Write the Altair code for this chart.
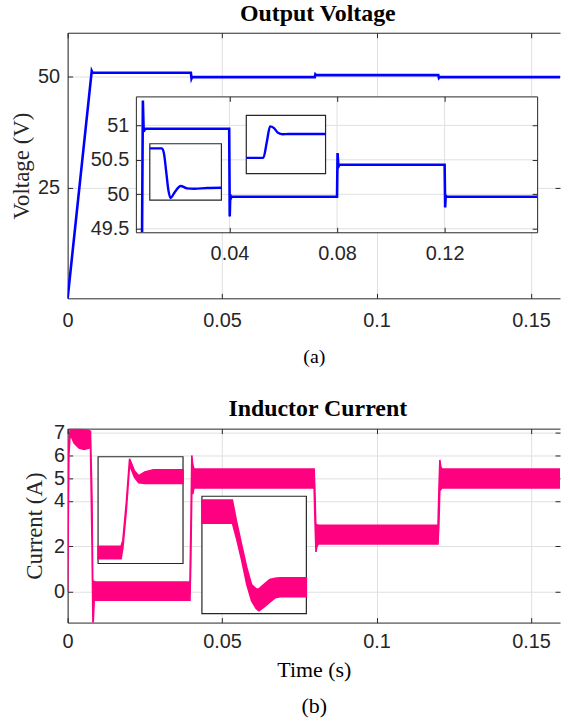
import altair as alt
import pandas as pd

# ---------------- data ----------------
# Output voltage (V) versus time (s)
V_T = [0.0, 0.0078, 0.0081, 0.0086, 0.0399, 0.0401, 0.0403, 0.0405, 0.0408,
       0.0800, 0.0802, 0.0805, 0.0809, 0.1200, 0.1202, 0.1204, 0.1208, 0.1600]
V_V = [0.0, 51.36, 50.91, 50.95, 50.95, 49.68, 50.00, 49.94, 49.965,
       49.965, 50.60, 50.40, 50.43, 50.43, 49.81, 49.98, 49.965, 49.965]
# point where the start-up rise enters the zoomed voltage axes
V_ENTRY_T = 0.0075
V_ENTRY_V = 49.45

# magnified step-down transient near 0.04 s
A_T = [0.0396, 0.03994, 0.0400, 0.04006, 0.04012, 0.04018, 0.0403, 0.04046,
       0.04064, 0.04084, 0.0412, 0.0416]
A_V = [50.95, 50.95, 50.80, 50.35, 49.90, 49.71, 49.86, 50.01,
       49.95, 49.94, 49.96, 49.965]
# magnified step-up transient near 0.08 s
B_T = [0.0796, 0.08003, 0.08012, 0.0802, 0.0803, 0.0804, 0.08052, 0.08066, 0.0808, 0.0816]
B_V = [49.965, 49.965, 50.283, 50.578, 50.544, 50.453, 50.424, 50.43, 50.43, 50.43]

# Inductor current (A): lower / upper envelope of the ripple band
I_T = [0.0, 0.0004, 0.0008, 0.0021, 0.0037, 0.0053, 0.0068, 0.0074, 0.0079, 0.0082,
       0.0086, 0.0091, 0.0396, 0.0399, 0.0402, 0.0405, 0.0409, 0.0413, 0.0798, 0.0801,
       0.0804, 0.0807, 0.0811, 0.1199, 0.1202, 0.1205, 0.1208, 0.1212, 0.1600]
I_LO = [0.0, 6.0, 6.95, 6.55, 6.32, 6.26, 6.32, 6.35, 2.0, -1.6,
        -0.4, -0.37, -0.37, 1.5, 4.5, 4.3, 4.57, 4.57, 4.57, 3.0,
        1.75, 2.0, 2.1, 2.1, 3.0, 4.6, 4.5, 4.57, 4.57]
I_HI = [0.0, 6.6, 7.15, 7.15, 7.15, 7.13, 7.1, 7.06, 4.0, -0.8,
        0.45, 0.42, 0.42, 3.0, 6.0, 5.6, 5.4, 5.4, 5.4, 4.2,
        2.6, 2.95, 2.92, 2.92, 4.5, 5.8, 5.5, 5.4, 5.4]

# magnified current step-up near 0.04 s
C_T = [0.0392, 0.03985, 0.0399, 0.0400, 0.04009, 0.04023, 0.04035, 0.04052, 0.04076, 0.0416]
C_LO = [-0.38, -0.38, 0.3, 2.8, 5.7, 4.9, 4.55, 4.5, 4.5, 4.5]
C_HI = [0.42, 0.42, 0.8, 3.3, 6.1, 5.3, 5.0, 5.25, 5.39, 5.39]
# magnified current step-down near 0.08 s
D_T = [0.0793, 0.0800, 0.0801, 0.08021, 0.08033, 0.08044, 0.08055, 0.08061,
       0.08074, 0.08086, 0.08098, 0.0811, 0.0817]
D_HI = [5.39, 5.39, 4.6, 3.83, 3.0, 2.4, 2.24, 2.25, 2.42, 2.58, 2.62, 2.64, 2.64]
D_LO = [4.57, 4.57, 4.0, 3.28, 2.41, 1.83, 1.54, 1.47, 1.62, 1.78, 1.93, 1.97, 1.97]

# axis domains and ticks
X_DOM = [0.0, 0.1594]
X_TICKS = [0, 0.05, 0.1, 0.15]
YV_DOM = [0, 60]
YV_TICKS = [25, 50]
YI_DOM = [-1.36, 7.18]
YI_TICKS = [0, 2, 4, 5, 6, 7]
ZV_T_DOM = [0.0052, 0.1544]
ZV_T_TICKS = [0.04, 0.08, 0.12]
ZV_V_DOM = [49.45, 51.42]
ZV_V_TICKS = [49.5, 50, 50.5, 51]
A_T_DOM = [0.0396, 0.0416]
A_V_DOM = [49.655, 51.066]
B_T_DOM = [0.0796, 0.0816]
B_V_DOM = [49.659, 50.793]
C_T_DOM = [0.0392, 0.0416]
C_I_DOM = [-0.7, 6.23]
D_T_DOM = [0.0793, 0.0817]
D_I_DOM = [1.37, 5.52]

# ---------------- layout / style ----------------
W = 495
H_TOP = 267
H_BOT = 195
# inset boxes (left, right, top, bottom) in px inside the plot area
ZV_BOX = (68.6, 472.0, 64.0, 200.6)
A_BOX = (82.6, 154.6, 111.6, 168.3)
B_BOX = (179.6, 259.3, 83.0, 141.6)
C_BOX = (30.6, 116.0, 28.3, 135.6)
D_BOX = (135.0, 240.0, 68.0, 186.0)

SANS = "Liberation Sans"
SERIF = "Liberation Serif"
INK = "#262626"
GRID = "#e0e0e0"
BLUE = "#0000ff"
PINK = "#ff0080"
IN_TICK = {"expr": "-5"}
FMT = ".6~g"


def xs(domain, box=None, clamp=False):
    kw = dict(domain=domain, nice=False, zero=False)
    if box is not None:
        kw["range"] = [box[0], box[1]]
    if clamp:
        kw["clamp"] = True
    return alt.Scale(**kw)


def ys(domain, box=None):
    kw = dict(domain=domain, nice=False, zero=False)
    if box is not None:
        kw["range"] = [box[3], box[2]]
    return alt.Scale(**kw)


def axis(orient, values, labels=True, grid=False, pad=10, offset=0, domain=True,
         zindex=0, title=None, **kw):
    d = dict(orient=orient, values=values, format=FMT, labels=labels, grid=grid,
             domain=domain, domainColor=INK, domainWidth=1,
             ticks=True, tickColor=INK, tickWidth=1, tickSize=IN_TICK,
             labelFont=SANS, labelFontSize=20, labelColor=INK, labelPadding=pad,
             labelFlush=False, labelOverlap=False, offset=offset, zindex=zindex,
             title=title)
    if grid:
        d.update(gridColor=GRID, gridWidth=1)
    d.update(kw)
    return alt.Axis(**d)


def frame_df(tdom, vdom):
    return pd.DataFrame({"t0": [tdom[0]], "t1": [tdom[1]], "v0": [vdom[0]], "v1": [vdom[1]]})


def box_rect(tdom, vdom, box, fill="white", stroke=True):
    mk = dict(fill=fill)
    if stroke:
        mk.update(stroke=INK, strokeWidth=1.2)
    return alt.Chart(frame_df(tdom, vdom)).mark_rect(**mk).encode(
        x=alt.X("t0:Q", scale=xs(tdom, box), axis=None), x2="t1",
        y=alt.Y("v0:Q", scale=ys(vdom, box), axis=None), y2="v1")


def grid_rules(tdom, vdom, tticks, vticks, box):
    vg = pd.DataFrame({"t": tticks, "v0": vdom[0], "v1": vdom[1]})
    hg = pd.DataFrame({"v": vticks, "t0": tdom[0], "t1": tdom[1]})
    r1 = alt.Chart(vg).mark_rule(color=GRID, strokeWidth=1).encode(
        x=alt.X("t:Q", scale=xs(tdom, box), axis=None),
        y=alt.Y("v0:Q", scale=ys(vdom, box), axis=None), y2="v1")
    r2 = alt.Chart(hg).mark_rule(color=GRID, strokeWidth=1).encode(
        y=alt.Y("v:Q", scale=ys(vdom, box), axis=None),
        x=alt.X("t0:Q", scale=xs(tdom, box), axis=None), x2="t1")
    return [r1, r2]


# ---------------- top panel: output voltage ----------------
volt = pd.DataFrame({"t": V_T, "v": V_V})
volt_zoom = pd.DataFrame({"t": [V_ENTRY_T] + V_T[1:], "v": [V_ENTRY_V] + V_V[1:]})
sub_a = pd.DataFrame({"t": A_T, "v": A_V})
sub_b = pd.DataFrame({"t": B_T, "v": B_V})

main_v = alt.Chart(volt).mark_line(color=BLUE, strokeWidth=2.6, clip=True).encode(
    x=alt.X("t:Q", scale=xs(X_DOM),
            axis=axis("bottom", X_TICKS, grid=True, pad=17, title="(a)",
                      titleFont=SERIF, titleFontSize=20, titleFontWeight="normal",
                      titleColor="black", titlePadding=17)),
    y=alt.Y("v:Q", scale=ys(YV_DOM),
            axis=axis("left", YV_TICKS, grid=True, pad=13, title="Voltage (V)",
                      titleFont=SERIF, titleFontSize=23, titleFontWeight="normal",
                      titleColor=INK, titlePadding=4)),
)
main_v_mirror = alt.Chart(volt).mark_line(opacity=0).encode(
    x=alt.X("t:Q", scale=xs(X_DOM), axis=axis("top", X_TICKS, labels=False)),
    y=alt.Y("v:Q", scale=ys(YV_DOM), axis=axis("right", YV_TICKS, labels=False, domain=False)),
)

zv_line = alt.Chart(volt_zoom).mark_line(color=BLUE, strokeWidth=2.6).encode(
    x=alt.X("t:Q", scale=xs(ZV_T_DOM, ZV_BOX, clamp=True),
            axis=axis("bottom", ZV_T_TICKS, pad=16, offset=-(H_TOP - ZV_BOX[3]), zindex=1)),
    y=alt.Y("v:Q", scale=ys(ZV_V_DOM, ZV_BOX),
            axis=axis("left", ZV_V_TICKS, pad=12, offset=-ZV_BOX[0], zindex=1)),
)
zv_mirror = alt.Chart(volt_zoom).mark_line(opacity=0).encode(
    x=alt.X("t:Q", scale=xs(ZV_T_DOM, ZV_BOX, clamp=True),
            axis=axis("top", ZV_T_TICKS, labels=False, offset=-ZV_BOX[2], zindex=1)),
    y=alt.Y("v:Q", scale=ys(ZV_V_DOM, ZV_BOX),
            axis=axis("right", ZV_V_TICKS, labels=False, offset=-(W - ZV_BOX[1]), zindex=1)),
)

a_line = alt.Chart(sub_a).mark_line(color=BLUE, strokeWidth=2.4, interpolate="monotone").encode(
    x=alt.X("t:Q", scale=xs(A_T_DOM, A_BOX), axis=None),
    y=alt.Y("v:Q", scale=ys(A_V_DOM, A_BOX), axis=None))
b_line = alt.Chart(sub_b).mark_line(color=BLUE, strokeWidth=2.4, interpolate="monotone").encode(
    x=alt.X("t:Q", scale=xs(B_T_DOM, B_BOX), axis=None),
    y=alt.Y("v:Q", scale=ys(B_V_DOM, B_BOX), axis=None))

top = alt.layer(
    main_v, main_v_mirror,
    box_rect(ZV_T_DOM, ZV_V_DOM, ZV_BOX, stroke=False),
    *grid_rules(ZV_T_DOM, ZV_V_DOM, ZV_T_TICKS, ZV_V_TICKS, ZV_BOX),
    zv_line, zv_mirror,
    box_rect(A_T_DOM, A_V_DOM, A_BOX), a_line,
    box_rect(B_T_DOM, B_V_DOM, B_BOX), b_line,
).resolve_scale(x="independent", y="independent").resolve_axis(
    x="independent", y="independent").properties(
    width=W, height=H_TOP,
    title=alt.TitleParams("Output Voltage", font=SERIF, fontSize=24, fontWeight="bold",
                          color="black", anchor="middle", offset=6, dx=4))

# ---------------- bottom panel: inductor current ----------------
cur = pd.DataFrame({"t": I_T, "lo": I_LO, "hi": I_HI})
sub_c = pd.DataFrame({"t": C_T, "lo": C_LO, "hi": C_HI})
sub_d = pd.DataFrame({"t": D_T, "lo": D_LO, "hi": D_HI})

main_i = alt.Chart(cur).mark_area(color=PINK, stroke=PINK, strokeWidth=1.6, opacity=1,
                                  clip=True).encode(
    x=alt.X("t:Q", scale=xs(X_DOM),
            axis=axis("bottom", X_TICKS, grid=True, pad=14, title=["Time (s)", "(b)"],
                      titleFont=SERIF, titleFontSize=22, titleFontWeight="normal",
                      titleColor="black", titlePadding=8, titleLineHeight=36)),
    y=alt.Y("lo:Q", scale=ys(YI_DOM),
            axis=axis("left", YI_TICKS, grid=True, pad=8, title="Current (A)",
                      titleFont=SERIF, titleFontSize=23, titleFontWeight="normal",
                      titleColor=INK, titlePadding=7)),
    y2="hi",
)
main_i_mirror = alt.Chart(cur).mark_area(opacity=0).encode(
    x=alt.X("t:Q", scale=xs(X_DOM), axis=axis("top", X_TICKS, labels=False)),
    y=alt.Y("lo:Q", scale=ys(YI_DOM), axis=axis("right", YI_TICKS, labels=False, domain=False)),
    y2="hi",
)


def band(df, tdom, idom, box):
    return alt.Chart(df).mark_area(color=PINK, stroke=PINK, strokeWidth=1.6, opacity=1).encode(
        x=alt.X("t:Q", scale=xs(tdom, box), axis=None),
        y=alt.Y("lo:Q", scale=ys(idom, box), axis=None), y2="hi")


bottom = alt.layer(
    main_i, main_i_mirror,
    box_rect(C_T_DOM, C_I_DOM, C_BOX), band(sub_c, C_T_DOM, C_I_DOM, C_BOX),
    box_rect(D_T_DOM, D_I_DOM, D_BOX), band(sub_d, D_T_DOM, D_I_DOM, D_BOX),
).resolve_scale(x="independent", y="independent").resolve_axis(
    x="independent", y="independent").properties(
    width=W, height=H_BOT,
    title=alt.TitleParams("Inductor Current", font=SERIF, fontSize=24, fontWeight="bold",
                          color="black", anchor="middle", offset=2, dx=4))

chart = alt.vconcat(top, bottom, spacing=30).properties(
    padding={"left": 10, "top": 0, "right": 0, "bottom": 0},
    background="white",
).configure_view(strokeWidth=0)

chart.save("out.html", embed_options={"renderer": "svg", "actions": False})
